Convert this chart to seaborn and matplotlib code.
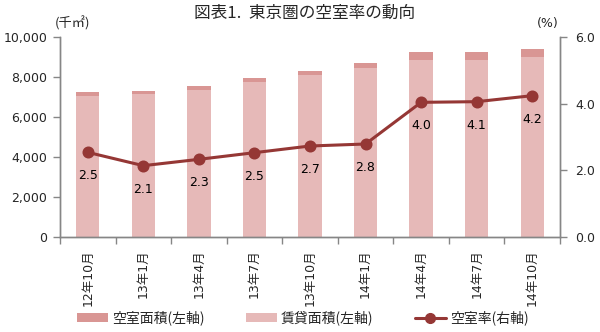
import matplotlib
matplotlib.use("Agg")
import matplotlib.pyplot as plt
import seaborn as sns
import pandas as pd
from matplotlib.patches import Patch
from matplotlib.lines import Line2D
from matplotlib.ticker import FuncFormatter, FixedLocator

months = ["12年10月", "13年1月", "13年4月", "13年7月", "13年10月",
          "14年1月", "14年4月", "14年7月", "14年10月"]
rented_area = [7070, 7145, 7355, 7730, 8095, 8475, 8860, 8850, 9005]
vacant_area = [180, 155, 175, 200, 225, 245, 370, 380, 395]
vacancy_rate = [2.54, 2.14, 2.33, 2.53, 2.73, 2.79, 4.04, 4.06, 4.24]

c_vacant = "#D99694"
c_rented = "#E6B9B8"
c_line = "#953735"
grey = "#868686"

sns.set_theme(style="white")
plt.rcParams["font.family"] = ["DejaVu Sans", "Noto Sans CJK JP"]
cjk = ["Noto Sans CJK JP", "DejaVu Sans"]

df = pd.DataFrame({"month": months, "rented": rented_area, "vacant": vacant_area,
                   "rate": vacancy_rate})
df["total"] = df["rented"] + df["vacant"]

fig = plt.figure(figsize=(6, 3.32), dpi=100)
ax = fig.add_axes([60/600, (332-237)/332, 500/600, 200/332])

sns.barplot(data=df, x="month", y="total", color=c_vacant, width=0.42,
            saturation=1, ax=ax, linewidth=0)
sns.barplot(data=df, x="month", y="rented", color=c_rented, width=0.42,
            saturation=1, ax=ax, linewidth=0)
ax.set_ylim(0, 10000)
ax.set_xlim(-0.5, len(months) - 0.5)
ax.set_xlabel("")
ax.set_ylabel("")
ax.set_yticks(range(0, 10001, 2000))
ax.yaxis.set_major_formatter(FuncFormatter(lambda v, p: f"{int(v):,}"))
ax.tick_params(axis="y", direction="out", length=5, width=1, color=grey,
               labelsize=9, pad=4, left=True)
ax.tick_params(axis="x", which="major", length=0, labelsize=9, pad=9)
ax.xaxis.set_minor_locator(FixedLocator([i - 0.5 for i in range(len(months) + 1)]))
ax.tick_params(axis="x", which="minor", direction="out", length=5, width=1,
               color=grey, bottom=True)
for lab in ax.get_xticklabels():
    lab.set_rotation(90)
    lab.set_va("top")
    lab.set_ha("center")

ax2 = ax.twinx()
sns.pointplot(data=df, x="month", y="rate", color=c_line, markers="o",
              markersize=7, linewidth=2.2, ax=ax2)
ax2.set_ylim(0, 6)
ax2.set_xlim(-0.5, len(months) - 0.5)
ax2.set_yticks([0, 2, 4, 6])
ax2.yaxis.set_major_formatter(FuncFormatter(lambda v, p: f"{v:.1f}"))
ax2.set_ylabel("")
ax2.set_xlabel("")
ax2.tick_params(axis="y", direction="out", length=5, width=1, color=grey,
                labelsize=9, pad=6, right=True)

for i, r in enumerate(vacancy_rate):
    ax2.annotate(f"{r:.1f}", (i, r), xytext=(0, -17), textcoords="offset points",
                 ha="center", va="center", fontsize=9, color="black")

for a in (ax, ax2):
    a.spines["top"].set_visible(False)
    for s in ["left", "right", "bottom"]:
        a.spines[s].set_color(grey)
        a.spines[s].set_linewidth(1)

fig.text(305/600, 1 - 13/332, "図表1.  東京圏の空室率の動向", ha="center",
         va="center", fontsize=12, family=cjk)
fig.text(72/600, 1 - 23/332, "(千㎡)", ha="center", va="center", fontsize=9.5,
         family=cjk)
fig.text(548/600, 1 - 23/332, "(%)", ha="center", va="center", fontsize=9)

handles = [Patch(facecolor=c_vacant, edgecolor="none"),
           Patch(facecolor=c_rented, edgecolor="none"),
           Line2D([0], [0], color=c_line, lw=2.2, marker="o", markersize=7)]
labels = ["空室面積(左軸)", "賃貸面積(左軸)", "空室率(右軸)"]
fig.legend(handles, labels, loc="center", bbox_to_anchor=(0.505, 1 - 318/332),
           ncol=3, frameon=False, prop={"family": cjk, "size": 10},
           handlelength=2.2, handleheight=0.6, columnspacing=3.0,
           handletextpad=0.3)

fig.savefig("out.png", dpi=100)
